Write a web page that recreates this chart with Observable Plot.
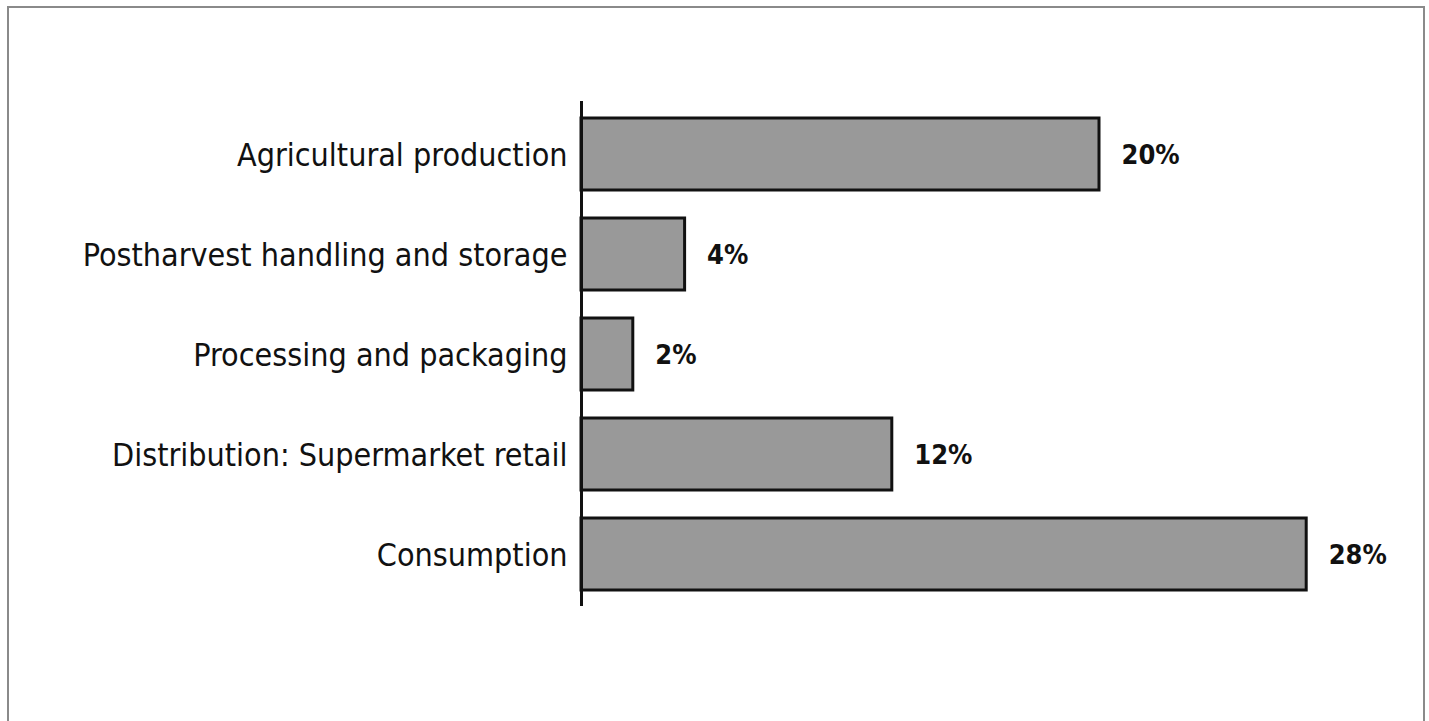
<!DOCTYPE html>
<html>
<head>
<meta charset="utf-8">
<script src="https://cdn.jsdelivr.net/npm/d3@7"></script>
<script src="https://cdn.jsdelivr.net/npm/@observablehq/plot@0.6"></script>
<style>
  html, body { margin: 0; padding: 0; background: #fff; overflow: hidden; }
  #wrap { position: relative; width: 1429px; height: 721px; }
  #frame { position: absolute; left: 7px; top: 6px; width: 1414px; height: 800px; border: 2px solid #8a8a8a; pointer-events: none; }
  svg { display: block; }
  svg text { font-stretch: condensed; }
</style>
</head>
<body>
<div id="wrap"><div id="frame"></div></div>
<script>
const stages = ["Agricultural production", "Postharvest handling and storage", "Processing and packaging", "Distribution: Supermarket retail", "Consumption"];
const shares = [20, 4, 2, 12, 28];
const valueLabels = ["20%", "4%", "2%", "12%", "28%"];

const data = stages.map((s, i) => ({stage: s, value: shares[i], label: valueLabels[i]}));
const font = '"DejaVu Sans Condensed", "Liberation Sans Narrow", sans-serif';

const chart = Plot.plot({
  width: 1429,
  height: 721,
  marginLeft: 581,
  marginRight: 71,
  marginTop: 101,
  marginBottom: 115,
  style: {fontFamily: font, background: "transparent"},
  x: {domain: [0, 30], axis: null},
  y: {domain: stages, paddingInner: 0.28, paddingOuter: 0.165, label: null},
  marks: [
    Plot.barX(data, {y: "stage", x: "value", fill: "#999999", stroke: "#111", strokeWidth: 3}),
    Plot.text(data, {y: "stage", x: "value", text: "label", dx: 22, dy: 1, textAnchor: "start", fontSize: 27, fontWeight: "bold", fill: "#111", fontFamily: font}),
    Plot.axisY({tickSize: 0, tickPadding: 14, fontSize: 32, color: "#111", label: null, dy: 1}),
    Plot.ruleX([0], {stroke: "#111", strokeWidth: 3})
  ]
});
document.getElementById("wrap").appendChild(chart);
chart.style.position = "absolute";
chart.style.left = "0";
chart.style.top = "0";
</script>
</body>
</html>
